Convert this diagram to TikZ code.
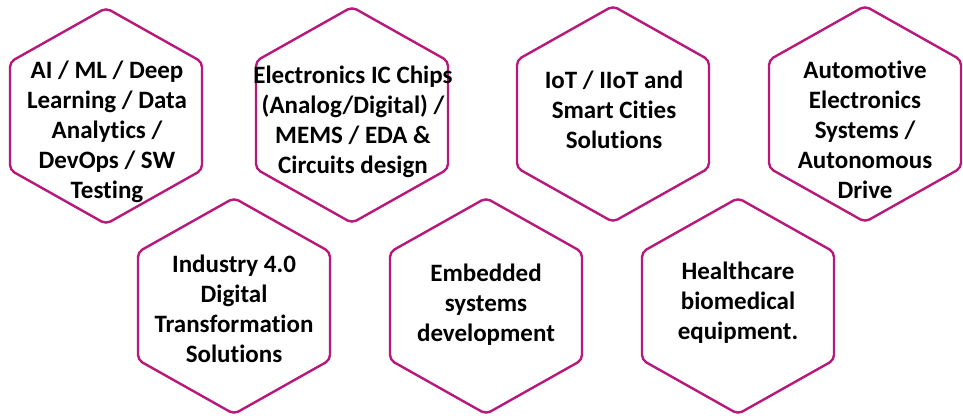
\documentclass[tikz,border=0pt]{standalone}
\usepackage{fontspec}
\setmainfont{Carlito}[Ligatures=NoCommon]
\definecolor{hexpink}{RGB}{183,24,121}

\begin{document}
\begin{tikzpicture}[x=1pt,y=1pt]
  \tikzstyle{cell} = [draw=hexpink,line width=2.4pt,rounded corners=5pt]
  \tikzstyle{topic} = [font=\bfseries\fontsize{25}{30}\selectfont,align=center,inner sep=0pt]
  \useasboundingbox (0,0) rectangle (963,415);
  % hexagon centres, upper and lower row
  \coordinate (c_ai) at (106,299);
  \coordinate (c_chips) at (352,300);
  \coordinate (c_iot) at (613,301);
  \coordinate (c_auto) at (865,301);
  \coordinate (c_ind) at (234,109);
  \coordinate (c_emb) at (486,109);
  \coordinate (c_health) at (738,109);
  \foreach \c in {c_ai,c_chips,c_iot,c_auto,c_ind,c_emb,c_health}
    \draw[cell] (\c) ++(0,108) -- ++(96,-54) -- ++(0,-108) -- ++(-96,-54)
      -- ++(-96,54) -- ++(0,108) -- cycle;
  % labels
  \node (ai) [topic] at (107,283) {AI / ML / Deep\\Learning / Data\\Analytics /\\DevOps / SW\\Testing};
  \node (chips) [topic] at (353,293) {Electronics IC Chips\\(Analog/Digital) /\\MEMS / EDA \&\\Circuits design};
  \node (iot) [topic] at (614,305) {IoT / IIoT and\\Smart Cities\\Solutions};
  \node (auto) [topic] at (865,285) {Automotive\\Electronics\\Systems /\\Autonomous\\Drive};
  \node (ind) [topic] at (234,106) {Industry 4.0\\Digital\\Transformation\\Solutions};
  \node (emb) [topic] at (486,110.5) {Embedded\\systems\\development};
  \node (health) [topic] at (738,112.5) {Healthcare\\biomedical\\equipment.};
\end{tikzpicture}
\end{document}
